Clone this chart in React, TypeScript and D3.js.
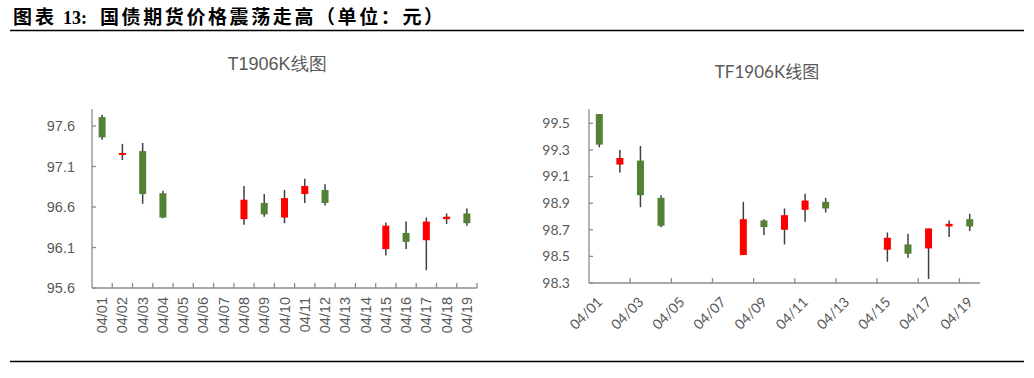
import React from "react";
import * as d3 from "d3";

const dates = ["04/01","04/02","04/03","04/04","04/05","04/06","04/07","04/08","04/09","04/10","04/11","04/12","04/13","04/14","04/15","04/16","04/17","04/18","04/19"];

// T1906
const tOpen  = [97.71, 97.25, 97.29, 96.77, null, null, null, 96.45, 96.65, 96.47, 96.76, 96.81, null, null, 96.08, 96.28, 96.19, 96.45, 96.52];
const tClose = [97.46, 97.26, 96.76, 96.47, null, null, null, 96.69, 96.51, 96.71, 96.86, 96.65, null, null, 96.37, 96.17, 96.42, 96.48, 96.40];
const tHigh  = [97.74, 97.38, 97.39, 96.80, null, null, null, 96.86, 96.76, 96.81, 96.95, 96.88, null, null, 96.41, 96.42, 96.47, 96.52, 96.58];
const tLow   = [97.43, 97.18, 96.64, 96.46, null, null, null, 96.38, 96.48, 96.40, 96.65, 96.62, null, null, 96.00, 96.08, 95.82, 96.39, 96.37];
const tTicks = [95.6, 96.1, 96.6, 97.1, 97.6];

// TF1906
const tfOpen  = [99.57, 99.19, 99.22, 98.94, null, null, null, 98.51, 98.77, 98.70, 98.85, 98.91, null, null, 98.55, 98.59, 98.56, 98.725, 98.78];
const tfClose = [99.34, 99.24, 98.96, 98.73, null, null, null, 98.78, 98.72, 98.81, 98.92, 98.86, null, null, 98.64, 98.52, 98.71, 98.745, 98.725];
const tfHigh  = [99.57, 99.30, 99.33, 98.96, null, null, null, 98.91, 98.78, 98.86, 98.97, 98.94, null, null, 98.68, 98.67, 98.71, 98.77, 98.82];
const tfLow   = [99.32, 99.13, 98.87, 98.72, null, null, null, 98.51, 98.66, 98.59, 98.76, 98.83, null, null, 98.46, 98.49, 98.33, 98.645, 98.69];
const tfTicks = [98.3, 98.5, 98.7, 98.9, 99.1, 99.3, 99.5];

const UP = "#FF0000";
const DOWN = "#538135";
const WICK = "#404040";
const AXIS = "#8c8c8c";
const LABEL = "#595959";

type ChartProps = {
  title: string;
  titleX: number;
  titleY: number;
  titleSize: number;
  font: string;
  open: (number | null)[];
  close: (number | null)[];
  high: (number | null)[];
  low: (number | null)[];
  ticks: number[];
  yDomain: [number, number];
  x0: number; x1: number; yTop: number; yBottom: number;
  labelSize: number;
  yLabelX: number;
  xLabelMode: "v" | "d";
  tickEvery: number;
};

function CandleChart(p: ChartProps) {
  const x = d3.scaleBand<string>().domain(dates).range([p.x0, p.x1]).padding(0);
  const y = d3.scaleLinear().domain(p.yDomain).range([p.yBottom, p.yTop]);
  const bw = x.bandwidth();
  const boundaries = d3.range(1, dates.length + 1).filter((k) => k % p.tickEvery === 0);
  const fmt = d3.format(".1f");
  return (
    <g fontFamily={p.font}>
      <text x={p.titleX} y={p.titleY} textAnchor="middle" fontSize={p.titleSize} fill={LABEL}>{p.title}</text>
      {/* y axis */}
      <line x1={p.x0} x2={p.x0} y1={p.yTop} y2={p.yBottom} stroke={AXIS} strokeWidth={1.3} />
      {p.ticks.map((t) => (
        <g key={t}>
          <line x1={p.x0} x2={p.x0 + 4} y1={y(t)} y2={y(t)} stroke={AXIS} strokeWidth={1.3} />
          <text x={p.yLabelX} y={y(t)} dy="0.35em" textAnchor="end" fontSize={p.labelSize} fill={LABEL}>{fmt(t)}</text>
        </g>
      ))}
      {/* x axis */}
      <line x1={p.x0} x2={p.x1} y1={p.yBottom} y2={p.yBottom} stroke={AXIS} strokeWidth={1.3} />
      {boundaries.map((k) => {
        const bx = p.x0 + k * bw;
        return <line key={k} x1={bx} x2={bx} y1={p.yBottom} y2={p.yBottom - 5} stroke={AXIS} strokeWidth={1.3} />;
      })}
      {dates.map((d, i) => {
        const c = (x(d) as number) + bw / 2;
        if (p.xLabelMode === "v") {
          return (
            <text key={d} transform={`translate(${c + 5},${p.yBottom + 9}) rotate(-90)`} textAnchor="end" fontSize={p.labelSize} fill={LABEL}>{d}</text>
          );
        }
        if (i % 2 !== 0) return null;
        return (
          <text key={d} transform={`translate(${c + 4},${p.yBottom + 20}) rotate(-45)`} textAnchor="end" fontSize={p.labelSize} fill={LABEL}>{d}</text>
        );
      })}
      {/* candles */}
      {dates.map((d, i) => {
        const o = p.open[i], c = p.close[i], h = p.high[i], l = p.low[i];
        if (o == null || c == null || h == null || l == null) return null;
        const cx = (x(d) as number) + bw / 2;
        const up = c >= o;
        const top = y(Math.max(o, c));
        const bot = y(Math.min(o, c));
        const hgt = Math.max(bot - top, 2);
        return (
          <g key={d}>
            <line x1={cx} x2={cx} y1={y(h)} y2={y(l)} stroke={WICK} strokeWidth={1.5} />
            <rect x={cx - 3.5} y={top - (hgt - (bot - top)) / 2} width={7} height={hgt} fill={up ? UP : DOWN} />
          </g>
        );
      })}
    </g>
  );
}

export default function App() {
  return (
    <svg width={1034} height={378} style={{ position: "absolute", left: 0, top: 0, background: "#fff" }}>
      <rect width={1034} height={378} fill="#fff" />
      <g fontWeight="bold" fill="#000">
        <text x={13} y={23.5} fontSize={19} letterSpacing={3} fontFamily='"Noto Sans CJK SC"'>图表</text>
        <text x={63} y={23.5} fontSize={18} fontFamily='"Liberation Serif"'>13:</text>
        <text x={100} y={23.5} fontSize={19} letterSpacing={2.6} fontFamily='"Noto Sans CJK SC"'>国债期货价格震荡走高（单位：元）</text>
      </g>
      <line x1={10} x2={1024} y1={30.5} y2={30.5} stroke="#000" strokeWidth={1.5} />
      <line x1={10} x2={1024} y1={361.5} y2={361.5} stroke="#000" strokeWidth={1.3} />
      <CandleChart
        title="T1906K线图" titleX={277} titleY={70} titleSize={18}
        font='"Liberation Sans", Arial, sans-serif'
        open={tOpen} close={tClose} high={tHigh} low={tLow}
        ticks={tTicks} yDomain={[95.6, 97.81]}
        x0={92} x1={477} yTop={109} yBottom={288}
        labelSize={14.5} yLabelX={75} xLabelMode="v" tickEvery={1}
      />
      <CandleChart
        title="TF1906K线图" titleX={767} titleY={78} titleSize={17}
        font='Lato, "Noto Sans CJK SC", sans-serif'
        open={tfOpen} close={tfClose} high={tfHigh} low={tfLow}
        ticks={tfTicks} yDomain={[98.3, 99.608]}
        x0={589} x1={980} yTop={109} yBottom={283}
        labelSize={14} yLabelX={570} xLabelMode="d" tickEvery={2}
      />
    </svg>
  );
}
